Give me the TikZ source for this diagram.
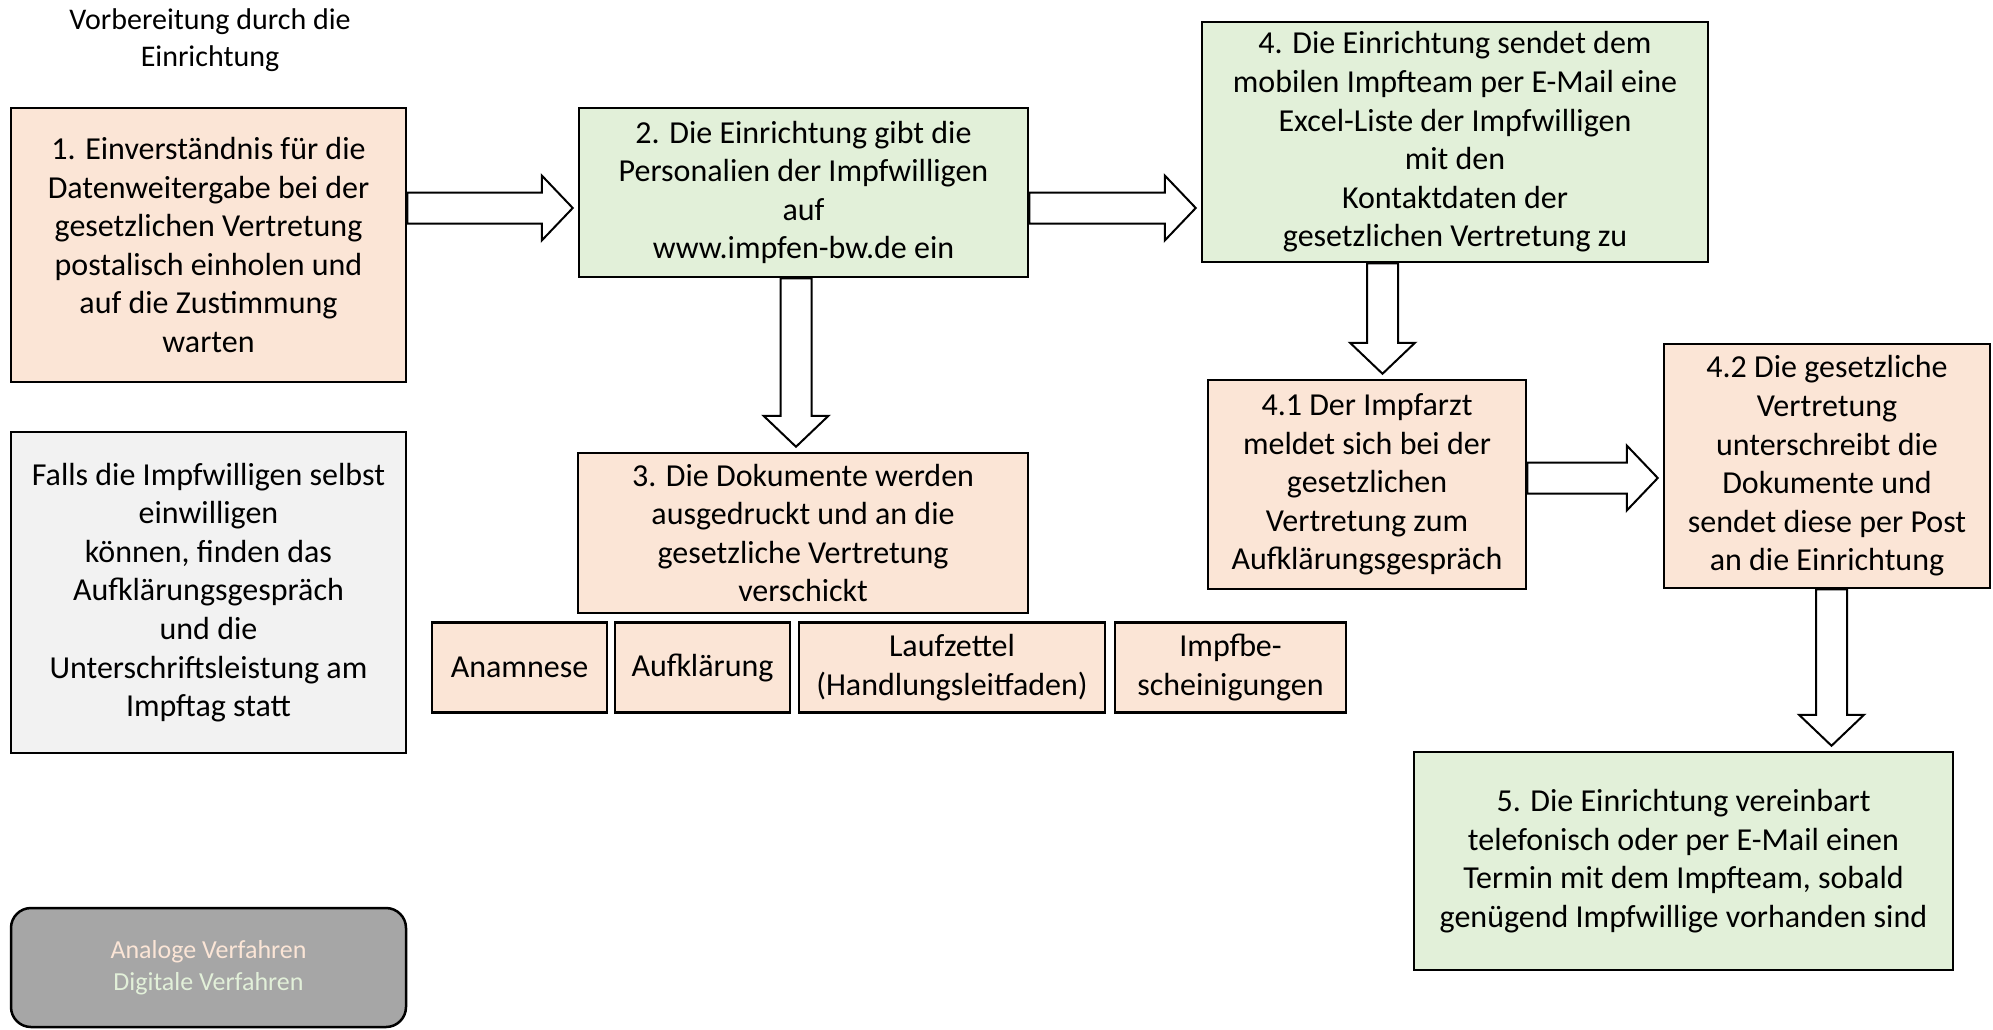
\documentclass[tikz,border=0pt]{standalone}
\usepackage{fontspec}
\setmainfont{Carlito}
\usetikzlibrary{calc}
\definecolor{peach}{HTML}{FBE5D6}
\definecolor{lgreen}{HTML}{E2F0D9}
\definecolor{lgrey}{HTML}{F2F2F2}
\definecolor{dgrey}{HTML}{A6A6A6}
\newcommand\rblk[2]{\path[blockarrow] let \p1=(#1),\p2=(#2) in
  (\x1,\y1+15.5pt) -- (\x2-36pt,\y1+15.5pt) -- (\x2-36pt,\y1+32.5pt) -- (\x2-5pt,\y1)
  -- (\x2-36pt,\y1-32.5pt) -- (\x2-36pt,\y1-15.5pt) -- (\x1,\y1-15.5pt) -- cycle;}
\newcommand\dblk[2]{\path[blockarrow] let \p1=(#1),\p2=(#2) in
  (\x1-15.5pt,\y1) -- (\x1-15.5pt,\y2+36pt) -- (\x1-32.5pt,\y2+36pt) -- (\x1,\y2+5pt)
  -- (\x1+32.5pt,\y2+36pt) -- (\x1+15.5pt,\y2+36pt) -- (\x1+15.5pt,\y1) -- cycle;}
\begin{document}
\begin{tikzpicture}[x=1pt,y=-1pt,
  box/.style={draw=black, line width=2.5pt, inner sep=0pt, align=center,
    font=\fontsize{32}{38.6}\selectfont},
  peachbox/.style={box, fill=peach},
  greenbox/.style={box, fill=lgreen},
  greybox/.style={box, fill=lgrey},
  legendbox/.style={draw=black, line width=2.5pt, rounded corners=20pt, fill=dgrey,
    inner sep=0pt, align=center, font=\fontsize{26}{32}\selectfont},
  titletext/.style={align=center, inner sep=0pt, font=\fontsize{30}{36.6}\selectfont},
  blockarrow/.style={draw=black, line width=2pt, fill=white, line join=miter}]
\useasboundingbox[fill=white] (0,0) rectangle (1993,1029);

\node[titletext] (title) at (210,40) {Vorbereitung durch die\\Einrichtung};

\node[peachbox, minimum width=395pt, minimum height=274pt] (b1) at (208.5,245)
  {1. Einverständnis für die\\Datenweitergabe bei der\\gesetzlichen Vertretung\\postalisch einholen und\\auf die Zustimmung\\warten};

\node[greybox, minimum width=395pt, minimum height=321pt] (falls) at (208.5,592.5)
  {Falls die Impfwilligen selbst\\einwilligen\\können, finden das\\Aufklärungsgespräch\\und die\\Unterschriftsleistung am\\Impftag statt};

\node[legendbox, minimum width=395pt, minimum height=119pt] (leg) at (208.5,967.5)
  {\textcolor{peach}{Analoge Verfahren}\\\textcolor{lgreen}{Digitale Verfahren}};

\node[greenbox, minimum width=449pt, minimum height=169pt] (b2) at (803.5,192.5)
  {2. Die Einrichtung gibt die\\Personalien der Impfwilligen\\auf\\www.impfen-bw.de ein};

\node[peachbox, minimum width=450pt, minimum height=160pt] (b3) at (803,533)
  {3. Die Dokumente werden\\ausgedruckt und an die\\gesetzliche Vertretung\\verschickt};

\node[peachbox, minimum width=175pt, minimum height=90pt] (s1) at (519.5,667.5) {Anamnese};
\node[peachbox, minimum width=175pt, minimum height=90pt] (s2) at (702.5,667.5) {Aufklärung};
\node[peachbox, minimum width=306pt, minimum height=90pt] (s3) at (952,667.5) {Laufzettel\\(Handlungsleitfaden)};
\node[peachbox, minimum width=231pt, minimum height=90pt] (s4) at (1230.5,667.5) {Impfbe-\\scheinigungen};

\node[greenbox, minimum width=506pt, minimum height=240pt] (b4) at (1455,142)
  {4. Die Einrichtung sendet dem\\mobilen Impfteam per E-Mail eine\\Excel-Liste der Impfwilligen\\mit den\\Kontaktdaten der\\gesetzlichen Vertretung zu};

\node[peachbox, minimum width=318pt, minimum height=209pt] (b41) at (1367,484.5)
  {4.1 Der Impfarzt\\meldet sich bei der\\gesetzlichen\\Vertretung zum\\Aufklärungsgespräch};

\node[peachbox, minimum width=326pt, minimum height=244pt] (b42) at (1827,466)
  {4.2 Die gesetzliche\\Vertretung\\unterschreibt die\\Dokumente und\\sendet diese per Post\\an die Einrichtung};

\node[greenbox, minimum width=539pt, minimum height=218pt] (b5) at (1683.5,861)
  {5. Die Einrichtung vereinbart\\telefonisch oder per E-Mail einen\\Termin mit dem Impfteam, sobald\\genügend Impfwillige vorhanden sind};

% block arrows
\rblk{[yshift=-15.5pt]b2.west -| b1.east}{[yshift=-15.5pt]b2.west}
\rblk{[yshift=-15.5pt]b2.east}{[yshift=-15.5pt]b2.east -| b4.west}
\rblk{[yshift=6.5pt]b41.east}{[yshift=6.5pt]b41.east -| b42.west}
\dblk{[xshift=-7.5pt]b2.south}{[xshift=-7.5pt]b2.south |- b3.north}
\dblk{[xshift=15.5pt]b41.north |- b4.south}{[xshift=15.5pt]b41.north}
\dblk{[xshift=4.5pt]b42.south}{[xshift=4.5pt]b42.south |- b5.north}
\end{tikzpicture}
\end{document}
